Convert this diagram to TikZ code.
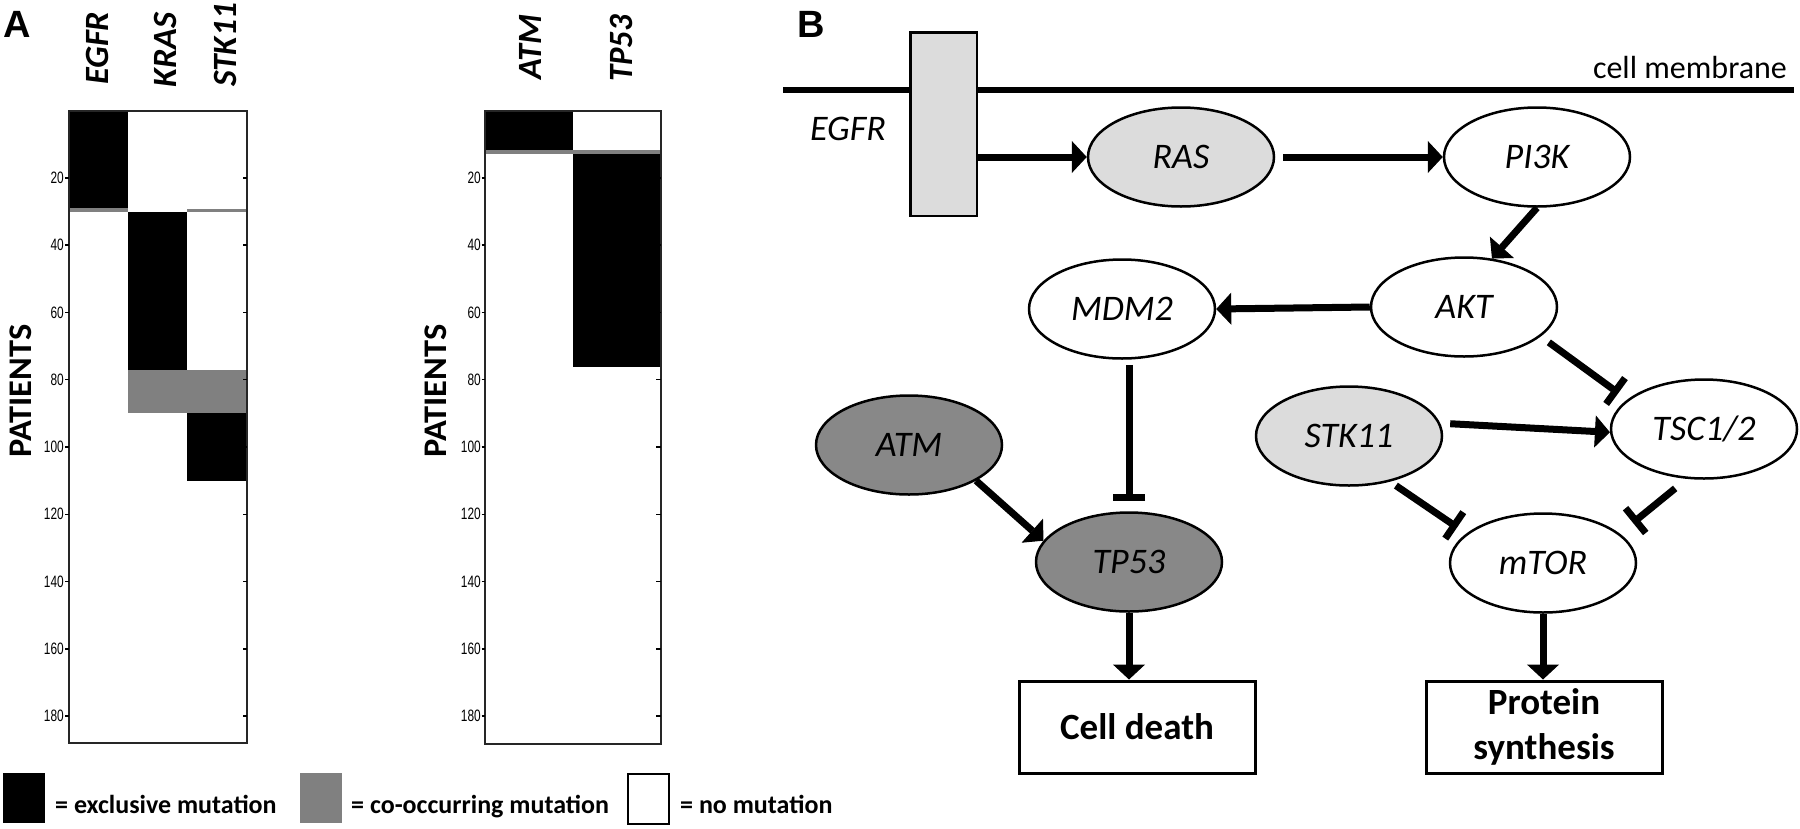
\documentclass[tikz,border=0pt]{standalone}
\usepackage{fontspec}
\usepackage{graphicx}
\setmainfont{Carlito}
\newfontfamily\arialfont{Liberation Sans}
\newfontfamily\tickfont[FakeStretch=0.72]{Liberation Sans}
\usetikzlibrary{shapes.geometric,arrows.meta,calc}
\definecolor{lightfill}{HTML}{DCDCDC}
\definecolor{darkfill}{HTML}{888888}
\definecolor{cogray}{HTML}{808080}
\newcommand{\fitlen}[2]{\resizebox{#1}{\height}{#2}}
\begin{document}
\begin{tikzpicture}[x=1pt,y=-1pt,
  gene/.style={ellipse, draw=black, line width=2.5pt, minimum width=186pt, minimum height=99pt, inner sep=0pt,
    font=\fontsize{36}{40}\selectfont\itshape, text height=23pt, text depth=0pt},
  outbox/.style={rectangle, draw=black, line width=3pt, minimum width=236pt, minimum height=92pt, inner sep=0pt,
    font=\fontsize{37}{45}\selectfont\bfseries, align=center},
  act/.style={line width=7pt, -{Triangle[length=15pt,width=32pt,line width=1pt]}},
  inh/.style={line width=7pt, -{Bar[width=32pt]}},
  plotframe/.style={line width=2pt, draw=black!85},
  ticklab/.style={anchor=east, inner sep=0pt, font=\tickfont\fontsize{16.5}{18}\selectfont},
  genelab/.style={rotate=90, anchor=west, inner sep=0pt, font=\fontsize{34}{38}\selectfont\bfseries\itshape},
  patlab/.style={rotate=90, inner sep=0pt, font=\fontsize{33}{36}\selectfont\bfseries},
  legtext/.style={anchor=base west, inner sep=0pt, font=\fontsize{26}{30}\selectfont\bfseries},
  panellab/.style={inner sep=0pt, font=\arialfont\bfseries\fontsize{38}{40}\selectfont},
]
\useasboundingbox (0,0) rectangle (1800,828);
\fill[white] (0,0) rectangle (1800,828);

% ---------------- Panel A ----------------
\node[panellab] (labA) at (17.5,24) {A};

% plot 1
\fill[black] (69,111) rectangle (128,208);
\fill[cogray] (69,208) rectangle (128,211.5);
\fill[cogray] (187,208.5) rectangle (247,211.5);
\fill[black] (128,211.5) rectangle (187,370);
\fill[cogray] (128,370) rectangle (247,413);
\fill[black] (187,413) rectangle (247,481);
\draw[plotframe] (69,111) rectangle (247,743);
\foreach \v in {20,40,...,180} {
  \pgfmathsetmacro{\yy}{110.5+3.365*\v}
  \draw[line width=1.5pt] (65,\yy) -- (69,\yy);
  \draw[line width=1.5pt] (243,\yy) -- (247,\yy);
  \node[ticklab] at (64,\yy) {\v};
}
\node[genelab] (gEGFR) at (97.5,85) {\fitlen{73pt}{EGFR}};
\node[genelab] (gKRAS) at (165,88) {\fitlen{75pt}{KRAS}};
\node[genelab] (gSTK) at (225,87) {\fitlen{84pt}{STK11}};
\node[patlab] (pat1) at (21,391) {\fitlen{133pt}{PATIENTS}};

% plot 2
\fill[black] (485,111) rectangle (573,150);
\fill[cogray] (485,150) rectangle (661,154);
\fill[black] (573,154) rectangle (661,367);
\draw[plotframe] (485,111) rectangle (661,744);
\foreach \v in {20,40,...,180} {
  \pgfmathsetmacro{\yy}{110.5+3.365*\v}
  \draw[line width=1.5pt] (481.5,\yy) -- (485,\yy);
  \draw[line width=1.5pt] (656,\yy) -- (661,\yy);
  \node[ticklab] at (481,\yy) {\v};
}
\node[genelab] (gATM) at (530,80) {\fitlen{65pt}{ATM}};
\node[genelab] (gTP) at (621.5,82) {\fitlen{67pt}{TP53}};
\node[patlab] (pat2) at (436,391) {\fitlen{133pt}{PATIENTS}};

% legend
\fill[black] (3,773) rectangle (45,823);
\node[legtext] (l1) at (55,813) {= exclusive mutation};
\fill[cogray] (300,773) rectangle (342,823);
\node[legtext] (l2) at (351,813) {= co-occurring mutation};
\draw[line width=2pt] (628,774) rectangle (669,824);
\node[legtext] (l3) at (680,813) {= no mutation};

% ---------------- Panel B ----------------
\node[panellab] (labB) at (811,24.5) {B};
\draw[line width=6pt] (783,90) -- (1794,90);
\node[anchor=base east, inner sep=0pt, font=\fontsize{32}{36}\selectfont] (memb) at (1787,78) {cell membrane};

\node[rectangle, draw=black, line width=2.5pt, fill=lightfill, minimum width=66.5pt, minimum height=183.5pt, inner sep=0pt] (egfr) at (943.5,124) {};
\node[inner sep=0pt, font=\fontsize{36}{40}\selectfont\itshape] (egfrlab) at (848,129) {EGFR};

\node[gene, fill=lightfill] (ras) at (1181,157) {RAS};
\node[gene] (pi3k) at (1537,157) {PI3K};
\node[gene] (akt) at (1464,307) {AKT};
\node[gene] (mdm2) at (1122,309) {MDM2};
\node[gene, fill=darkfill] (atm) at (909,445) {ATM};
\node[gene, fill=darkfill] (tp53) at (1129,562) {TP53};
\node[gene, fill=lightfill] (stk11) at (1349,436) {STK11};
\node[gene] (tsc) at (1704,429) {TSC1/2};
\node[gene] (mtor) at (1543,563) {mTOR};
\node[outbox] (death) at (1137,727) {Cell death};
\node[outbox] (protein) at (1544,727) {Protein\\synthesis};

\draw[act] (egfr.east |- ras.west) -- (ras.west);
\draw[act, shorten <=8pt] (ras.east) -- (pi3k.west);
\draw[act] (pi3k.south) -- (akt.60);
\draw[act] (akt.west) -- (mdm2.east);
\draw[inh, shorten <=5pt, shorten >=10pt] (tp53.north |- mdm2.south) -- (tp53.north);
\draw[act] (atm.-28) -- (tp53.166);
\draw[act] (tp53.south) -- (tp53.south |- death.north);
\draw[inh, shorten <=10pt, shorten >=11pt] (akt.-21) -- (tsc.159);
\draw[act, shorten <=10pt] (stk11.8) -- (tsc.182);
\draw[inh, shorten <=7pt, shorten >=11pt] (stk11.-48) -- (mtor.159);
\draw[inh, shorten <=15pt, shorten >=17pt] (tsc.-109) -- (mtor.21);
\draw[act] (mtor.south) -- (mtor.south |- protein.north);
\end{tikzpicture}
\end{document}
